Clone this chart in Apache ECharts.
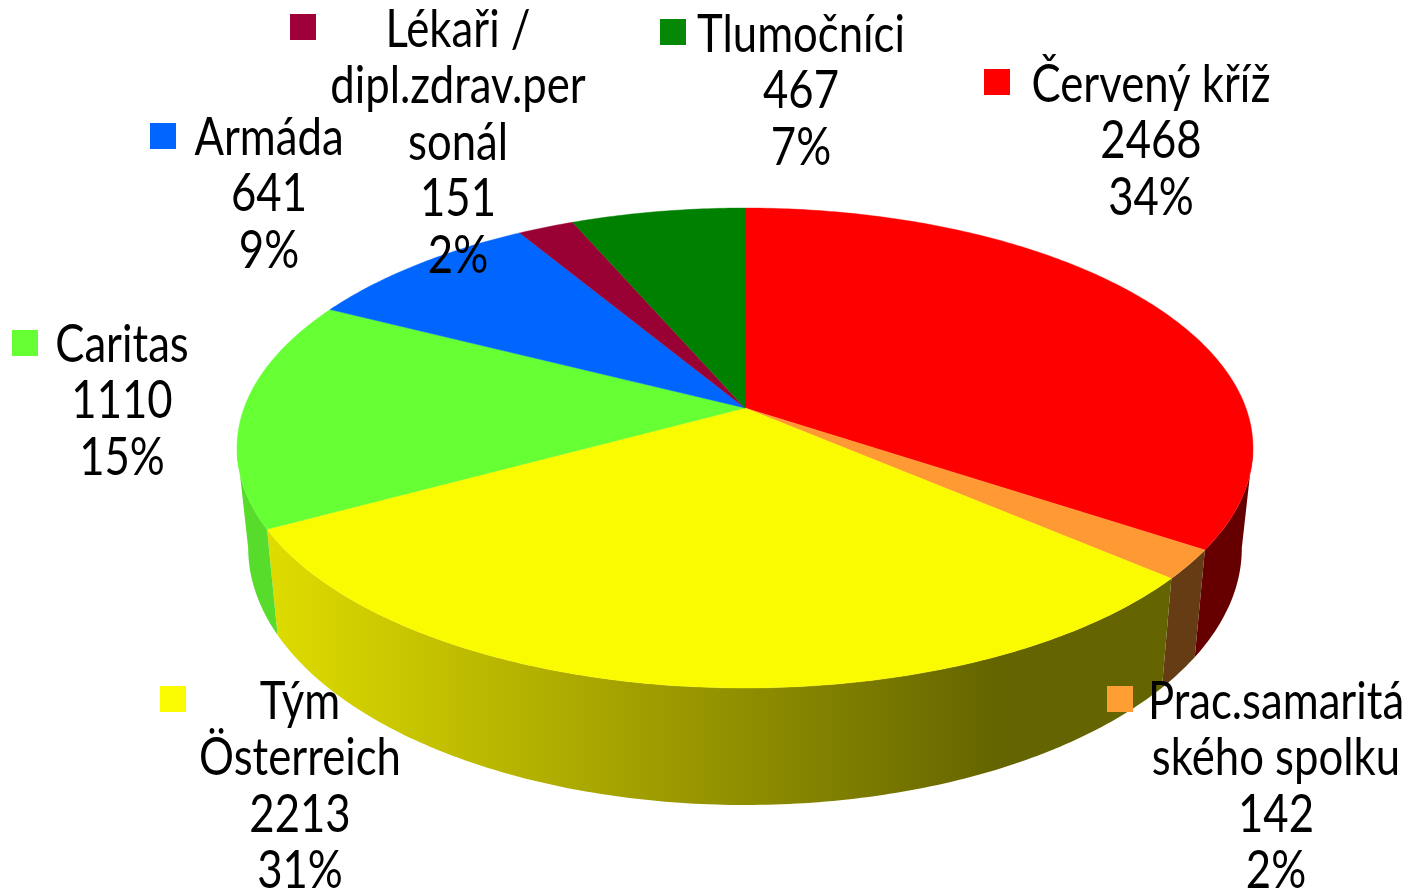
<!DOCTYPE html>
<html><head><meta charset="utf-8">
<style>html,body{margin:0;padding:0;background:#fff}#c{width:1410px;height:891px}</style>
<script src="https://cdn.jsdelivr.net/npm/echarts@6/dist/echarts.min.js"></script>
</head><body><div id="c"></div>
<script>
// data
const categories = ['Červený kříž','Prac.samaritá\nského spolku','Tým\nÖsterreich','Caritas','Armáda','Lékaři /\ndipl.zdrav.per\nsonál','Tlumočníci'];
const seriesValues = [2468,142,2213,1110,641,151,467];
const percentLabels = ['34%','2%','31%','15%','9%','2%','7%'];
// styles
const topColors = ['#ff0000','#ff9933','#fafa00','#66ff33','#0066ff','#990033','#008000'];
const sideColors = ['#660000','#663c14',null,'#58dc2c','#003d99','#5c001f','#004d00'];
const keyColors = ['#ff0000','#ff9f33','#fafa00','#66ff33','#0066ff','#a0003a','#068806'];
// layout: label centre x, top of first line, key x, key y
const labelX = [1151,1276,300,122,269,458,801];
const labelY = [57,674,674,317,110,2,7];
const keyX = [984,1107,160,12,150,290,660];
const keyY = [69,686,686,330,123,14,19];
const lineH = 56.4, keySize = 26;

const total = seriesValues.reduce((a,b)=>a+b,0);
const CX=745, CY=408, K=1/6, B=165.33, A=500.9;
const FRONT0 = Math.acos(-K), FRONT1 = 2*Math.PI-FRONT0; // silhouette angles
function topPt(t){const u=Math.sin(t),v=Math.cos(t),d=1+K*v;return [CX+A*u/d,(CY-B*v)/d];}
function botPt(p){return [CX+(p[0]-CX)*0.978,p[1]+107+(p[1]-548)*0.0714];}
function angles(i){let s=0;for(let j=0;j<i;j++)s+=seriesValues[j];
  return [s/total*2*Math.PI,(s+seriesValues[i])/total*2*Math.PI];}
function arc(a,b){const n=Math.max(8,Math.ceil((b-a)*80)),r=[];
  for(let k=0;k<=n;k++)r.push(topPt(a+(b-a)*k/n));return r;}

const yellowSide = new echarts.graphic.LinearGradient(275,0,1000,0,[
  {offset:0,color:'#dedb00'},{offset:1,color:'#646400'}],true);

const chart = echarts.init(document.getElementById('c'),null,{renderer:'canvas'});
chart.setOption({
  animation:false, backgroundColor:'#ffffff',
  series:[
    {type:'custom',coordinateSystem:'none',silent:true,data:seriesValues,z:1,
     renderItem(p){const i=p.dataIndex,[a0,b0]=angles(i),a=Math.max(a0,FRONT0),b=Math.min(b0,FRONT1);
       if(b<=a)return null;
       const t=arc(a,b),bt=t.map(botPt).reverse();
       return {type:'polygon',shape:{points:t.concat(bt)},
         style:{fill:sideColors[i]||yellowSide,stroke:null}};}},
    {type:'custom',coordinateSystem:'none',silent:true,data:seriesValues,z:2,
     renderItem(p){const i=p.dataIndex,[a,b]=angles(i);
       return {type:'polygon',shape:{points:[[CX,CY]].concat(arc(a,b))},
         style:{fill:topColors[i],stroke:topColors[i],lineWidth:0.4}};}},
    {type:'custom',coordinateSystem:'none',silent:true,data:seriesValues,z:3,
     renderItem(p){const i=p.dataIndex;
       return {type:'group',children:[
         {type:'rect',shape:{x:keyX[i],y:keyY[i],width:keySize,height:keySize},style:{fill:keyColors[i]}},
         {type:'text',x:labelX[i],y:labelY[i],scaleX:0.84,style:{
           text:categories[i]+'\n'+seriesValues[i]+'\n'+percentLabels[i],
           fill:'#000',align:'center',verticalAlign:'top',lineHeight:lineH,
           font:'52px Lato'}}
       ]};}}
  ]
});
</script></body></html>
